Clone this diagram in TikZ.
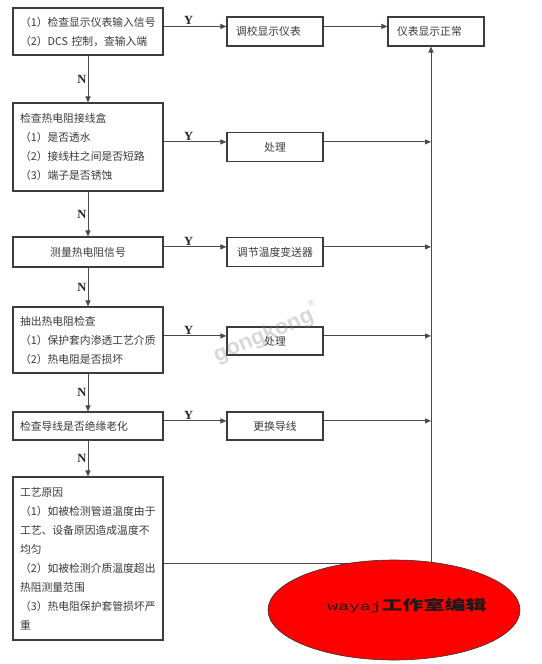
\documentclass[tikz,border=0pt]{standalone}
\usepackage{fontspec}
\setmainfont{Noto Sans CJK SC}
\newfontfamily\ynfont{Liberation Serif}
\newfontfamily\stampmono{Liberation Mono}
\newfontfamily\wmfont{Liberation Sans}
\usetikzlibrary{arrows.meta,shapes.geometric}
\definecolor{boxline}{HTML}{3C3C3C}
\definecolor{txt}{HTML}{3A3A3A}
\definecolor{conn}{HTML}{4A4A4A}
\tikzset{
  lbox/.style={draw=boxline,line width=1.1pt,minimum width=150pt,text width=136pt,inner xsep=7pt,align=left,text=txt,font=\fontsize{10.8}{19}\selectfont},
  rbox/.style={draw=boxline,line width=1.1pt,minimum width=96pt,minimum height=29pt,text width=84pt,inner xsep=6pt,align=center,text=txt,font=\fontsize{10.8}{19}\selectfont},
  leftin/.style={align=left,text width=78pt,inner xsep=9pt},
  arr/.style={draw=conn,line width=1pt,-{Triangle[length=6pt,width=5pt]}},
  ln/.style={draw=conn,line width=1pt},
  yn/.style={font=\ynfont\bfseries\fontsize{12.5}{14}\selectfont,inner sep=1pt,text=black!85},
  stamp/.style={ellipse,draw=black!80,fill=red,line width=0.6pt,minimum width=252pt,minimum height=100pt,inner sep=0pt},
  wm/.style={font=\wmfont\bfseries\fontsize{22}{22}\selectfont,text=gray,opacity=0.3}
}
\begin{document}
\begin{tikzpicture}[x=1pt,y=-1pt]
\fill[white] (0,0) rectangle (541,664);
\useasboundingbox (0,0) rectangle (541,664);
\node[lbox,minimum height=47pt] (b1) at (88,31.5) {（1）检查显示仪表输入信号\\（2）DCS 控制，查输入端};
\node[lbox,minimum height=88pt] (b2) at (88,147) {检查热电阻接线盒\\（1）是否透水\\（2）接线柱之间是否短路\\（3）端子是否锈蚀};
\node[lbox,minimum height=30pt,align=center] (b3) at (88,252) {测量热电阻信号};
\node[lbox,minimum height=66pt] (b4) at (88,340) {抽出热电阻检查\\（1）保护套内渗透工艺介质\\（2）热电阻是否损坏};
\node[lbox,minimum height=28pt] (b5) at (88,426) {检查导线是否绝缘老化};
\node[lbox,minimum height=163pt] (b6) at (88,558.5) {工艺原因\\（1）如被检测管道温度由于\\工艺、设备原因造成温度不\\均匀\\（2）如被检测介质温度超出\\热阻测量范围\\（3）热电阻保护套管损坏严\\重};
\node[rbox,leftin] (r1) at (275,31.5) {调校显示仪表};
\node[rbox] (r2) at (275,147) {处理};
\node[rbox] (r3) at (275,252) {调节温度变送器};
\node[rbox,minimum height=28pt] (r4) at (275,341) {处理};
\node[rbox,minimum height=28pt] (r5) at (275,426) {更换导线};
\node[rbox,leftin] (f) at (436,31.5) {仪表显示正常};
\coordinate (corner) at (431,563);
\foreach \i in {1,...,5}{\draw[arr] (b\i.east |- r\i.174) -- (r\i.174) node[yn,pos=0.4,above] {Y};}
\foreach \i/\j in {1/2,2/3,3/4,4/5,5/6}{\draw[arr] (b\i) -- (b\j) node[yn,midway,left] {N};}
\draw[arr] (r1.6) -- (r1.6 -| f.west);
\foreach \i in {2,...,5}{\draw[arr] (r\i.6) -- (r\i.6 -| corner);}
\draw[ln] (b6.east |- corner) -- (corner);
\draw[arr] (corner) -- (corner |- f.south);
\node[wm,rotate=23] (wmark) at (266,333) {gongkong\raisebox{1.2ex}{\fontsize{9}{9}\selectfont ®}};
\node[stamp] (stampe) at (394,610) {};
\node[text=black!90] (stamptxt) at (407,606) {\scalebox{1.5}[1]{{\stampmono\fontsize{12}{14}\selectfont wayaj}{\bfseries\fontsize{14}{16}\selectfont 工作室编辑}}};
\end{tikzpicture}
\end{document}
